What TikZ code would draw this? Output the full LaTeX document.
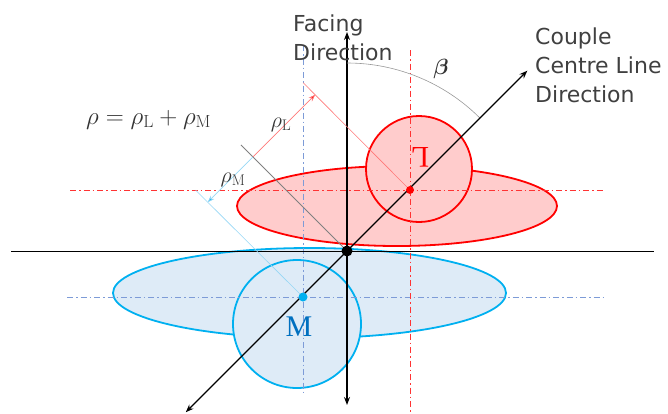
\RequirePackage{fix-cm}
\documentclass[tikz,border=0pt]{standalone}
\usepackage{fontspec}
\usepackage{bm}
\newfontfamily\labelfont{DejaVu Sans}
\newfontfamily\letterfont{Liberation Serif}
\usetikzlibrary{arrows.meta,positioning}
\definecolor{lred}{RGB}{255,0,0}
\definecolor{lfill}{RGB}{255,204,204}
\definecolor{lthin}{RGB}{255,120,120}
\definecolor{mblue}{RGB}{0,176,240}
\definecolor{mfill}{RGB}{222,235,247}
\definecolor{mthin}{RGB}{150,215,245}
\definecolor{mdash}{RGB}{125,155,215}
\definecolor{mtext}{RGB}{0,112,192}
\definecolor{txt}{RGB}{64,64,64}

\begin{document}
\begin{tikzpicture}[x=1pt, y=1pt,
    dot/.style={circle, inner sep=0pt, draw=none},
    centre/.style={dash pattern=on 6pt off 3pt on 1.5pt off 3pt, line width=1pt},
    body/.style={line width=1.8pt},
    axis/.style={line width=1.1pt, {Stealth[length=8pt,width=6pt]}-{Stealth[length=8pt,width=6pt]}},
    rhoarrow/.style={line width=0.6pt, -{Stealth[length=7pt,width=5pt]}},
    lbl/.style={font=\labelfont\fontsize{22}{29}\selectfont, text=txt, inner sep=0pt, align=left},
    mth/.style={font=\fontsize{22}{26}\selectfont, text=black!80, inner sep=0pt}]
  \useasboundingbox (0,0) rectangle (668,-413);

  % Bodies
  \draw[body, mblue, fill=mfill] (309.5,-293) ellipse [x radius=196.5, y radius=45];
  \draw[body, mblue, fill=mfill] (297,-324) circle [radius=64];
  \draw[body, lred, fill=lfill] (397,-206) ellipse [x radius=160, y radius=40];
  \draw[body, lred, fill=lfill] (419,-169) circle [radius=53];

  % Centre lines
  \draw[centre, mdash] (67,-297) -- (603,-297);
  \draw[centre, mdash] (303,-45) -- (303,-392);
  \draw[centre, lred!80] (70,-190) -- (603,-190);
  \draw[centre, lred!80] (410,-50) -- (410,-413);

  % Points
  \coordinate (O) at (347,-251);
  \coordinate (L) at (410,-190);
  \coordinate (M) at (303,-297);
  \coordinate (west) at (11,-251);
  \coordinate (east) at (654,-251);
  \coordinate (front) at (347,-32);
  \coordinate (back) at (347,-405);

  \begin{scope}[shift={(O)}, rotate=45]
    \coordinate (cl-) at (-228,0);
    \coordinate (cl+) at (255,0);
    \coordinate (Op) at (0,150);
    \coordinate (Lp) at (88,150);
    \coordinate (Mp) at (-64,150);
    \coordinate (rho) at (0,133);
    \coordinate (rhoL) at (88,133);
    \coordinate (rhoM) at (-64,133);
  \end{scope}

  % Axes
  \draw[line width=1pt] (west) -- (east);
  \draw[axis] (back) -- (front);

  % Projections onto the perpendicular
  \draw[gray, line width=0.9pt] (O) -- (Op);
  \draw[lthin, line width=0.6pt] (L) -- (Lp);
  \draw[mthin, line width=0.6pt] (M) -- (Mp);
  \draw[rhoarrow, lthin, -{Stealth[length=7pt,width=5pt,fill=lred]}] (rho) -- (rhoL);
  \draw[rhoarrow, mthin, -{Stealth[length=7pt,width=5pt,fill=mblue]}] (rho) -- (rhoM);

  % Angle
  \draw[gray!80, line width=0.6pt] ([shift={(90:188)}]O) arc [start angle=90, end angle=45, radius=188];

  \draw[axis] (cl-) -- (cl+);

  % Centres
  \node[dot, fill=black, minimum size=11pt] (Odot) at (O) {};
  \node[dot, fill=lred, minimum size=8pt] (Ldot) at (L) {};
  \node[dot, fill=mblue, minimum size=9pt] (Mdot) at (M) {};

  % Labels
  \node[lbl, anchor=north west] (facing) at (293,-14.5) {Facing\\Direction};
  \node[lbl, anchor=north west] (couple) at (535,-27.5) {Couple\\Centre Line\\Direction};
  \node[mth, font=\fontsize{25}{28}\selectfont, anchor=base west] (sum) at (86,-124) {$\rho = \rho_{\mathrm{L}} + \rho_{\mathrm{M}}$};
  \node[mth, anchor=base] (rhoLlbl) at (281,-127) {$\rho_{\mathrm{L}}$};
  \node[mth, anchor=base] (rhoMlbl) at (233,-182) {$\rho_{\mathrm{M}}$};
  \node[mth] (beta) at (441,-69) {$\bm{\beta}$};
  \node[text=mtext, font=\letterfont\fontsize{30}{30}\selectfont, inner sep=0pt] (Mlbl) at (299,-327) {M};
  \node[text=lred, font=\letterfont\fontsize{30}{30}\selectfont, inner sep=0pt, rotate=180] (Llbl) at (420,-157) {L};
\end{tikzpicture}
\end{document}
